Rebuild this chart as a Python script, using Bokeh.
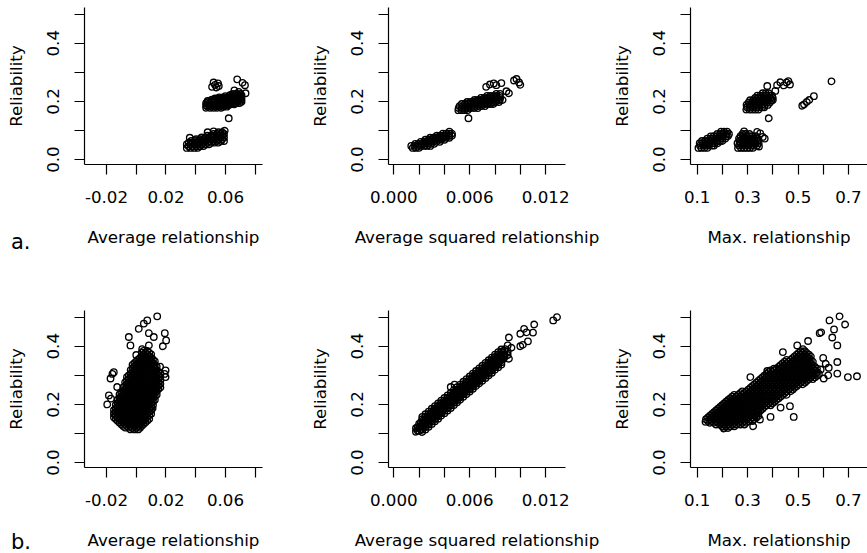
from bokeh.plotting import figure
from bokeh.layouts import column, row
from bokeh.models import Range1d, FixedTicker, Label
from bokeh.embed import file_html
from bokeh.resources import INLINE

FONT = "DejaVu Sans"
FS = "16.7px"

# ---------------- data ----------------
Y_TICKS = [0.0, 0.1, 0.2, 0.3, 0.4, 0.5]
Y_LABELS = ["0.0", "", "0.2", "", "0.4", ""]

X1_TICKS = [-0.02, 0.0, 0.02, 0.04, 0.06, 0.08]
X1_LABELS = ["-0.02", "", "0.02", "", "0.06", ""]
X2_TICKS = [0.0, 0.002, 0.004, 0.006, 0.008, 0.01, 0.012]
X2_LABELS = ["0.000", "", "", "0.006", "", "", "0.012"]
X3_TICKS = [0.1, 0.2, 0.3, 0.4, 0.5, 0.6, 0.7]
X3_LABELS = ["0.1", "", "0.3", "", "0.5", "", "0.7"]

X_TITLES = ["Average relationship", "Average squared relationship", "Max. relationship"]
Y_TITLE = "Reliability"
ROW_TAGS = ["a.", "b."]

# Panel a1: rows of (reliability, [average relationship ...])
a1_rows = [
    (0.178, [0.047, 0.0495, 0.052, 0.0545, 0.057]),
    (0.182, [0.0483, 0.0508, 0.0533, 0.0558, 0.0583, 0.0608]),
    (0.186, [0.047, 0.0495, 0.052, 0.0545, 0.057, 0.0595, 0.062]),
    (0.190, [0.0483, 0.0508, 0.0533, 0.0558, 0.0583, 0.0608, 0.0633, 0.0658]),
    (0.194, [0.047, 0.0495, 0.052, 0.0545, 0.057, 0.0595, 0.062, 0.0645, 0.067, 0.0695]),
    (0.198, [0.0483, 0.0508, 0.0533, 0.0558, 0.0583, 0.0608, 0.0633, 0.0658, 0.0683, 0.0708]),
    (0.202, [0.048, 0.0505, 0.053, 0.0555, 0.058, 0.0605, 0.063, 0.0655, 0.068, 0.0705]),
    (0.206, [0.0508, 0.0533, 0.0558, 0.0583, 0.0608, 0.0633, 0.0658, 0.0683, 0.0708]),
    (0.210, [0.053, 0.0555, 0.058, 0.0605, 0.063, 0.0655, 0.068, 0.0705]),
    (0.214, [0.0558, 0.0583, 0.0608, 0.0633, 0.0658, 0.0683, 0.0708]),
    (0.218, [0.060, 0.0625, 0.065, 0.0675, 0.070]),
    (0.222, [0.0633, 0.0658, 0.0683, 0.0708]),
    (0.226, [0.065, 0.0675, 0.070]),
    (0.040, [0.034, 0.0365, 0.039, 0.0415]),
    (0.046, [0.0353, 0.0378, 0.0403, 0.0428, 0.0453]),
    (0.052, [0.034, 0.0365, 0.039, 0.0415, 0.044, 0.0465, 0.049]),
    (0.058, [0.0353, 0.0378, 0.0403, 0.0428, 0.0453, 0.0478, 0.0503, 0.0528, 0.0553]),
    (0.064, [0.037, 0.0395, 0.042, 0.0445, 0.047, 0.0495, 0.052, 0.0545, 0.057, 0.059]),
    (0.070, [0.0403, 0.0428, 0.0453, 0.0478, 0.0503, 0.0528, 0.0553, 0.0578]),
    (0.076, [0.044, 0.0465, 0.049, 0.0515, 0.054, 0.0565, 0.059]),
    (0.082, [0.0478, 0.0503, 0.0528, 0.0553, 0.0578]),
    (0.088, [0.052, 0.0545, 0.057, 0.059]),
    (0.094, [0.0553, 0.0578]),
]
a1_extra_x = [0.051, 0.053, 0.055, 0.052, 0.0555, 0.054, 0.0679, 0.0715, 0.0731, 0.0735,
              0.066, 0.069, 0.0622, 0.036, 0.048, 0.052, 0.0595]
a1_extra_y = [0.250, 0.257, 0.262, 0.265, 0.253, 0.248, 0.276, 0.264, 0.256, 0.228,
              0.238, 0.233, 0.142, 0.075, 0.094, 0.097, 0.099]

# Panel a2: rows of (reliability, [average squared relationship ...])
a2_rows = [
    (0.040, [0.0015, 0.00175, 0.0020]),
    (0.047, [0.00138, 0.00163, 0.00188, 0.00213, 0.00238, 0.00263, 0.00288]),
    (0.054, [0.0017, 0.00195, 0.0022, 0.00245, 0.0027, 0.00295, 0.0032]),
    (0.061, [0.00213, 0.00238, 0.00263, 0.00288, 0.00313, 0.00338, 0.00363]),
    (0.068, [0.0025, 0.00275, 0.0030, 0.00325, 0.0035, 0.00375, 0.0040]),
    (0.075, [0.00288, 0.00313, 0.00338, 0.00363, 0.00388, 0.00413, 0.00438]),
    (0.082, [0.0034, 0.00365, 0.0039, 0.00415, 0.0044, 0.0046]),
    (0.089, [0.00388, 0.00413, 0.00438, 0.0046]),
    (0.096, [0.0044]),
    (0.170, [0.0051, 0.00535, 0.0056, 0.00585]),
    (0.177, [0.00513, 0.00538, 0.00563, 0.00588, 0.00613, 0.00638, 0.00663]),
    (0.184, [0.0052, 0.00545, 0.0057, 0.00595, 0.0062, 0.00645, 0.0067, 0.00695, 0.0072]),
    (0.191, [0.00538, 0.00563, 0.00588, 0.00613, 0.00638, 0.00663, 0.00688, 0.00713, 0.00738, 0.00763, 0.00788]),
    (0.198, [0.0058, 0.00605, 0.0063, 0.00655, 0.0068, 0.00705, 0.0073, 0.00755, 0.0078, 0.00805, 0.0083]),
    (0.205, [0.00638, 0.00663, 0.00688, 0.00713, 0.00738, 0.00763, 0.00788, 0.00813, 0.00838, 0.0086]),
    (0.212, [0.0069, 0.00715, 0.0074, 0.00765, 0.0079, 0.00815, 0.0084]),
    (0.219, [0.00738, 0.00763, 0.00788, 0.00813, 0.00838]),
    (0.226, [0.0081, 0.0084]),
]
a2_extra_x = [0.0073, 0.0076, 0.0079, 0.0081, 0.0085, 0.0059, 0.0095, 0.0097, 0.0099, 0.0100, 0.0089, 0.0091]
a2_extra_y = [0.250, 0.258, 0.262, 0.256, 0.263, 0.142, 0.272, 0.277, 0.265, 0.257, 0.235, 0.228]

# Panel a3: rows of (reliability, [max relationship ...])
a3_rows = [
    (0.040, [0.105, 0.117, 0.129, 0.141]),
    (0.048, [0.111, 0.123, 0.135, 0.147, 0.159, 0.167]),
    (0.056, [0.110, 0.122, 0.134, 0.146, 0.158, 0.170, 0.182]),
    (0.064, [0.119, 0.131, 0.143, 0.155, 0.167, 0.179, 0.191, 0.200]),
    (0.072, [0.140, 0.152, 0.164, 0.176, 0.188, 0.200, 0.212]),
    (0.080, [0.154, 0.166, 0.178, 0.190, 0.202, 0.214, 0.222]),
    (0.088, [0.180, 0.192, 0.204, 0.216, 0.226]),
    (0.096, [0.195, 0.207, 0.219]),
    (0.040, [0.262, 0.274, 0.286, 0.298, 0.310, 0.322]),
    (0.048, [0.266, 0.278, 0.290, 0.302, 0.314, 0.326, 0.338]),
    (0.056, [0.260, 0.272, 0.284, 0.296, 0.308, 0.320, 0.332, 0.344]),
    (0.064, [0.268, 0.280, 0.292, 0.304, 0.316, 0.328, 0.340]),
    (0.072, [0.266, 0.278, 0.290, 0.302, 0.314, 0.326, 0.338]),
    (0.080, [0.272, 0.284, 0.296, 0.308, 0.320, 0.332]),
    (0.088, [0.280, 0.292, 0.308]),
    (0.172, [0.295, 0.307, 0.319, 0.331, 0.343]),
    (0.180, [0.298, 0.310, 0.322, 0.334, 0.346, 0.358, 0.366]),
    (0.188, [0.296, 0.308, 0.320, 0.332, 0.344, 0.356, 0.368, 0.380]),
    (0.196, [0.304, 0.316, 0.328, 0.340, 0.352, 0.364, 0.376, 0.388]),
    (0.204, [0.310, 0.322, 0.334, 0.346, 0.358, 0.370, 0.382, 0.394, 0.400]),
    (0.212, [0.330, 0.342, 0.354, 0.366, 0.378, 0.390, 0.400]),
    (0.220, [0.339, 0.351, 0.363, 0.375, 0.387, 0.397]),
    (0.228, [0.360, 0.372, 0.384]),
]
a3_extra_x = [0.378, 0.417, 0.430, 0.444, 0.455, 0.462, 0.468, 0.410, 0.384, 0.517, 0.524,
              0.535, 0.545, 0.563, 0.633, 0.286, 0.338, 0.350, 0.360, 0.368, 0.345]
a3_extra_y = [0.253, 0.256, 0.266, 0.255, 0.265, 0.270, 0.258, 0.236, 0.142, 0.185, 0.190,
              0.198, 0.205, 0.218, 0.269, 0.097, 0.095, 0.090, 0.078, 0.072, 0.045]

# Panel b1: rows of (reliability, [average relationship ...])
b1_rows = [
    (0.114, [-0.00375, -0.00125, 0.00125]),
    (0.120, [-0.0075, -0.005, -0.0025, 0.0, 0.0025]),
    (0.126, [-0.00875, -0.00625, -0.00375, -0.00125, 0.00125, 0.00375]),
    (0.132, [-0.010, -0.0075, -0.005, -0.0025, 0.0, 0.0025, 0.005]),
    (0.138, [-0.01125, -0.00875, -0.00625, -0.00375, -0.00125, 0.00125, 0.00375, 0.00625]),
    (0.144, [-0.0125, -0.010, -0.0075, -0.005, -0.0025, 0.0, 0.0025, 0.005, 0.0075]),
    (0.150, [-0.01375, -0.01125, -0.00875, -0.00625, -0.00375, -0.00125, 0.00125, 0.00375, 0.00625, 0.00875]),
    (0.156, [-0.015, -0.0125, -0.010, -0.0075, -0.005, -0.0025, 0.0, 0.0025, 0.005, 0.0075]),
    (0.162, [-0.01375, -0.01125, -0.00875, -0.00625, -0.00375, -0.00125, 0.00125, 0.00375, 0.00625, 0.00875]),
    (0.168, [-0.015, -0.0125, -0.010, -0.0075, -0.005, -0.0025, 0.0, 0.0025, 0.005, 0.0075, 0.010]),
    (0.174, [-0.01375, -0.01125, -0.00875, -0.00625, -0.00375, -0.00125, 0.00125, 0.00375, 0.00625, 0.00875]),
    (0.180, [-0.015, -0.0125, -0.010, -0.0075, -0.005, -0.0025, 0.0, 0.0025, 0.005, 0.0075, 0.010]),
    (0.186, [-0.01375, -0.01125, -0.00875, -0.00625, -0.00375, -0.00125, 0.00125, 0.00375, 0.00625, 0.00875, 0.011]),
    (0.192, [-0.0125, -0.010, -0.0075, -0.005, -0.0025, 0.0, 0.0025, 0.005, 0.0075, 0.010]),
    (0.198, [-0.01375, -0.01125, -0.00875, -0.00625, -0.00375, -0.00125, 0.00125, 0.00375, 0.00625, 0.00875, 0.01125]),
    (0.204, [-0.0125, -0.010, -0.0075, -0.005, -0.0025, 0.0, 0.0025, 0.005, 0.0075, 0.010]),
    (0.210, [-0.01125, -0.00875, -0.00625, -0.00375, -0.00125, 0.00125, 0.00375, 0.00625, 0.00875, 0.01125]),
    (0.216, [-0.0125, -0.010, -0.0075, -0.005, -0.0025, 0.0, 0.0025, 0.005, 0.0075, 0.010, 0.0125]),
    (0.222, [-0.01125, -0.00875, -0.00625, -0.00375, -0.00125, 0.00125, 0.00375, 0.00625, 0.00875, 0.01125]),
    (0.228, [-0.010, -0.0075, -0.005, -0.0025, 0.0, 0.0025, 0.005, 0.0075, 0.010, 0.0125]),
    (0.234, [-0.01125, -0.00875, -0.00625, -0.00375, -0.00125, 0.00125, 0.00375, 0.00625, 0.00875, 0.01125, 0.01375]),
    (0.240, [-0.010, -0.0075, -0.005, -0.0025, 0.0, 0.0025, 0.005, 0.0075, 0.010, 0.0125]),
    (0.246, [-0.00875, -0.00625, -0.00375, -0.00125, 0.00125, 0.00375, 0.00625, 0.00875, 0.01125, 0.01375]),
    (0.252, [-0.0075, -0.005, -0.0025, 0.0, 0.0025, 0.005, 0.0075, 0.010, 0.0125, 0.015]),
    (0.258, [-0.00875, -0.00625, -0.00375, -0.00125, 0.00125, 0.00375, 0.00625, 0.00875, 0.01125, 0.01375, 0.01625]),
    (0.264, [-0.0075, -0.005, -0.0025, 0.0, 0.0025, 0.005, 0.0075, 0.010, 0.0125, 0.015]),
    (0.270, [-0.00625, -0.00375, -0.00125, 0.00125, 0.00375, 0.00625, 0.00875, 0.01125, 0.01375, 0.01625]),
    (0.276, [-0.0075, -0.005, -0.0025, 0.0, 0.0025, 0.005, 0.0075, 0.010, 0.0125, 0.015]),
    (0.282, [-0.00625, -0.00375, -0.00125, 0.00125, 0.00375, 0.00625, 0.00875, 0.01125, 0.01375, 0.01625]),
    (0.288, [-0.005, -0.0025, 0.0, 0.0025, 0.005, 0.0075, 0.010, 0.0125, 0.015]),
    (0.294, [-0.00625, -0.00375, -0.00125, 0.00125, 0.00375, 0.00625, 0.00875, 0.01125, 0.01375, 0.01625]),
    (0.300, [-0.005, -0.0025, 0.0, 0.0025, 0.005, 0.0075, 0.010, 0.0125, 0.015]),
    (0.306, [-0.00375, -0.00125, 0.00125, 0.00375, 0.00625, 0.00875, 0.01125, 0.01375, 0.01625]),
    (0.312, [-0.0025, 0.0, 0.0025, 0.005, 0.0075, 0.010, 0.0125, 0.015]),
    (0.318, [-0.00375, -0.00125, 0.00125, 0.00375, 0.00625, 0.00875, 0.01125, 0.01375]),
    (0.324, [-0.0025, 0.0, 0.0025, 0.005, 0.0075, 0.010, 0.0125]),
    (0.330, [-0.00125, 0.00125, 0.00375, 0.00625, 0.00875, 0.01125, 0.01375]),
    (0.336, [-0.0025, 0.0, 0.0025, 0.005, 0.0075, 0.010, 0.0125]),
    (0.342, [-0.00125, 0.00125, 0.00375, 0.00625, 0.00875, 0.01125]),
    (0.348, [0.0, 0.0025, 0.005, 0.0075, 0.010, 0.0125]),
    (0.354, [0.00125, 0.00375, 0.00625, 0.00875, 0.01125]),
    (0.360, [0.0025, 0.005, 0.0075, 0.010]),
    (0.366, [0.00375, 0.00625, 0.00875]),
    (0.372, [0.005, 0.0075, 0.010]),
    (0.378, [0.00375, 0.00625, 0.00875]),
    (0.384, [0.005, 0.0075]),
]
b1_extra_x = [-0.0195, -0.0184, -0.0173, -0.0151, -0.016, -0.0128, -0.017, -0.005, -0.0039,
              0.0017, 0.0051, 0.0074, 0.0141, 0.0085, 0.0118, 0.0192, 0.0201, 0.0179, 0.0085,
              0.0197, 0.0197, 0.019, 0.016, 0.004, 0.0]
b1_extra_y = [0.200, 0.231, 0.289, 0.311, 0.305, 0.260, 0.220, 0.432, 0.403,
              0.460, 0.478, 0.489, 0.503, 0.445, 0.432, 0.445, 0.420, 0.400, 0.403,
              0.317, 0.294, 0.305, 0.330, 0.390, 0.370]

# Panel b2: columns of (average squared relationship, [reliability ...])
b2_cols = [
    (0.00175, [0.106, 0.118]),
    (0.00188, [0.110, 0.122]),
    (0.0020, [0.109, 0.121, 0.133]),
    (0.00213, [0.114, 0.126, 0.138]),
    (0.00225, [0.105, 0.113, 0.125, 0.137, 0.149, 0.157]),
    (0.00238, [0.123, 0.135, 0.147]),
    (0.0025, [0.114, 0.122, 0.134, 0.146, 0.158, 0.166]),
    (0.00263, [0.132, 0.144, 0.156]),
    (0.00275, [0.123, 0.131, 0.143, 0.155, 0.167, 0.175]),
    (0.00288, [0.142, 0.154, 0.166]),
    (0.0030, [0.133, 0.141, 0.153, 0.165, 0.177, 0.185]),
    (0.00313, [0.151, 0.163, 0.175]),
    (0.00325, [0.142, 0.150, 0.162, 0.174, 0.186, 0.194]),
    (0.00338, [0.160, 0.172, 0.184]),
    (0.0035, [0.151, 0.159, 0.171, 0.183, 0.195, 0.203]),
    (0.00363, [0.170, 0.182, 0.194]),
    (0.00375, [0.161, 0.169, 0.181, 0.193, 0.205, 0.213]),
    (0.00388, [0.179, 0.191, 0.203]),
    (0.0040, [0.170, 0.178, 0.190, 0.202, 0.214, 0.222]),
    (0.00413, [0.188, 0.200, 0.212]),
    (0.00425, [0.179, 0.187, 0.199, 0.211, 0.223, 0.231]),
    (0.00438, [0.198, 0.210, 0.222]),
    (0.0045, [0.188, 0.196, 0.208, 0.220, 0.232, 0.240]),
    (0.00463, [0.207, 0.219, 0.231]),
    (0.00475, [0.198, 0.206, 0.218, 0.230, 0.242, 0.250]),
    (0.00488, [0.216, 0.228, 0.240]),
    (0.0050, [0.207, 0.215, 0.227, 0.239, 0.251, 0.259]),
    (0.00513, [0.226, 0.238, 0.250]),
    (0.00525, [0.216, 0.224, 0.236, 0.248, 0.260, 0.268]),
    (0.00538, [0.235, 0.247, 0.259]),
    (0.0055, [0.226, 0.234, 0.246, 0.258, 0.270, 0.278]),
    (0.00563, [0.244, 0.256, 0.268]),
    (0.00575, [0.235, 0.243, 0.255, 0.267, 0.279, 0.287]),
    (0.00588, [0.254, 0.266, 0.278]),
    (0.0060, [0.244, 0.252, 0.264, 0.276, 0.288, 0.296]),
    (0.00613, [0.263, 0.275, 0.287]),
    (0.00625, [0.254, 0.262, 0.274, 0.286, 0.298, 0.306]),
    (0.00638, [0.272, 0.284, 0.296]),
    (0.0065, [0.263, 0.271, 0.283, 0.295, 0.307, 0.315]),
    (0.00663, [0.282, 0.294, 0.306]),
    (0.00675, [0.272, 0.280, 0.292, 0.304, 0.316, 0.324]),
    (0.00688, [0.291, 0.303, 0.315]),
    (0.0070, [0.281, 0.289, 0.301, 0.313, 0.325, 0.333]),
    (0.00713, [0.300, 0.312, 0.324]),
    (0.00725, [0.291, 0.299, 0.311, 0.323, 0.335, 0.343]),
    (0.00738, [0.309, 0.321, 0.333]),
    (0.0075, [0.300, 0.308, 0.320, 0.332, 0.344, 0.352]),
    (0.00763, [0.319, 0.331, 0.343]),
    (0.00775, [0.309, 0.317, 0.329, 0.341, 0.353, 0.361]),
    (0.00788, [0.328, 0.340, 0.352]),
    (0.0080, [0.319, 0.327, 0.339, 0.351, 0.363, 0.371]),
    (0.00813, [0.337, 0.349, 0.361]),
    (0.00825, [0.328, 0.336, 0.348, 0.360, 0.372, 0.380]),
    (0.00838, [0.347, 0.359, 0.371]),
    (0.0085, [0.337, 0.345, 0.357, 0.369, 0.381, 0.389]),
    (0.00863, [0.356, 0.368, 0.380]),
    (0.00875, [0.361, 0.373, 0.385]),
    (0.0090, [0.370, 0.382]),
]
b2_extra_x = [0.0091, 0.0100, 0.0103, 0.0105, 0.0100, 0.0102, 0.0106, 0.0111, 0.0110, 0.0126,
              0.0129, 0.0090, 0.0091, 0.0045, 0.0048, 0.0088, 0.0093]
b2_extra_y = [0.430, 0.443, 0.460, 0.448, 0.400, 0.405, 0.417, 0.475, 0.447, 0.489,
              0.500, 0.403, 0.357, 0.260, 0.268, 0.390, 0.395]

# Panel b3: rows of (reliability, [max relationship ...])
b3_rows = [
    (0.119, [0.207, 0.223]),
    (0.125, [0.199, 0.215, 0.231, 0.247]),
    (0.131, [0.175, 0.191, 0.207, 0.223, 0.239, 0.255, 0.271, 0.287]),
    (0.137, [0.151, 0.167, 0.183, 0.199, 0.215, 0.231, 0.247, 0.263, 0.279, 0.295]),
    (0.143, [0.143, 0.159, 0.175, 0.191, 0.207, 0.223, 0.239, 0.255, 0.271, 0.287, 0.303, 0.319]),
    (0.149, [0.135, 0.151, 0.167, 0.183, 0.199, 0.215, 0.231, 0.247, 0.263, 0.279, 0.295, 0.311, 0.327]),
    (0.155, [0.143, 0.159, 0.175, 0.191, 0.207, 0.223, 0.239, 0.255, 0.271, 0.287, 0.303, 0.319, 0.335]),
    (0.161, [0.151, 0.167, 0.183, 0.199, 0.215, 0.231, 0.247, 0.263, 0.279, 0.295, 0.311, 0.327, 0.343]),
    (0.167, [0.159, 0.175, 0.191, 0.207, 0.223, 0.239, 0.255, 0.271, 0.287, 0.303, 0.319, 0.335]),
    (0.173, [0.167, 0.183, 0.199, 0.215, 0.231, 0.247, 0.263, 0.279, 0.295, 0.311, 0.327, 0.343]),
    (0.179, [0.175, 0.191, 0.207, 0.223, 0.239, 0.255, 0.271, 0.287, 0.303, 0.319, 0.335, 0.351]),
    (0.185, [0.183, 0.199, 0.215, 0.231, 0.247, 0.263, 0.279, 0.295, 0.311, 0.327, 0.343, 0.359]),
    (0.191, [0.191, 0.207, 0.223, 0.239, 0.255, 0.271, 0.287, 0.303, 0.319, 0.335, 0.351, 0.367]),
    (0.197, [0.199, 0.215, 0.231, 0.247, 0.263, 0.279, 0.295, 0.311, 0.327, 0.343, 0.359, 0.375, 0.391]),
    (0.203, [0.207, 0.223, 0.239, 0.255, 0.271, 0.287, 0.303, 0.319, 0.335, 0.351, 0.367, 0.383, 0.399]),
    (0.209, [0.215, 0.231, 0.247, 0.263, 0.279, 0.295, 0.311, 0.327, 0.343, 0.359, 0.375, 0.391, 0.407]),
    (0.215, [0.223, 0.239, 0.255, 0.271, 0.287, 0.303, 0.319, 0.335, 0.351, 0.367, 0.383, 0.399, 0.415]),
    (0.221, [0.231, 0.247, 0.263, 0.279, 0.295, 0.311, 0.327, 0.343, 0.359, 0.375, 0.391, 0.407, 0.423]),
    (0.227, [0.239, 0.255, 0.271, 0.287, 0.303, 0.319, 0.335, 0.351, 0.367, 0.383, 0.399, 0.415, 0.431]),
    (0.233, [0.247, 0.263, 0.279, 0.295, 0.311, 0.327, 0.343, 0.359, 0.375, 0.391, 0.407, 0.423, 0.439, 0.455]),
    (0.239, [0.271, 0.287, 0.303, 0.319, 0.335, 0.351, 0.367, 0.383, 0.399, 0.415, 0.431, 0.447]),
    (0.245, [0.279, 0.295, 0.311, 0.327, 0.343, 0.359, 0.375, 0.391, 0.407, 0.423, 0.439, 0.455, 0.471]),
    (0.251, [0.303, 0.319, 0.335, 0.351, 0.367, 0.383, 0.399, 0.415, 0.431, 0.447, 0.463, 0.479]),
    (0.257, [0.311, 0.327, 0.343, 0.359, 0.375, 0.391, 0.407, 0.423, 0.439, 0.455, 0.471, 0.487]),
    (0.263, [0.319, 0.335, 0.351, 0.367, 0.383, 0.399, 0.415, 0.431, 0.447, 0.463, 0.479, 0.495]),
    (0.269, [0.327, 0.343, 0.359, 0.375, 0.391, 0.407, 0.423, 0.439, 0.455, 0.471, 0.487, 0.503, 0.519]),
    (0.275, [0.335, 0.351, 0.367, 0.383, 0.399, 0.415, 0.431, 0.447, 0.463, 0.479, 0.495, 0.511, 0.527]),
    (0.281, [0.343, 0.359, 0.375, 0.391, 0.407, 0.423, 0.439, 0.455, 0.471, 0.487, 0.503, 0.519, 0.535]),
    (0.287, [0.351, 0.367, 0.383, 0.399, 0.415, 0.431, 0.447, 0.463, 0.479, 0.495, 0.511, 0.527, 0.543, 0.559]),
    (0.293, [0.359, 0.375, 0.391, 0.407, 0.423, 0.439, 0.455, 0.471, 0.487, 0.503, 0.519, 0.535, 0.551, 0.567]),
    (0.299, [0.367, 0.383, 0.399, 0.415, 0.431, 0.447, 0.463, 0.479, 0.495, 0.511, 0.527, 0.543, 0.559, 0.575]),
    (0.305, [0.375, 0.391, 0.407, 0.423, 0.439, 0.455, 0.471, 0.487, 0.503, 0.519, 0.535, 0.551, 0.567, 0.583]),
    (0.311, [0.383, 0.399, 0.415, 0.431, 0.447, 0.463, 0.479, 0.495, 0.511, 0.527, 0.543, 0.559, 0.575]),
    (0.317, [0.391, 0.407, 0.423, 0.439, 0.455, 0.471, 0.487, 0.503, 0.519, 0.535, 0.551, 0.567]),
    (0.323, [0.415, 0.431, 0.447, 0.463, 0.479, 0.495, 0.511, 0.527, 0.543, 0.559, 0.575]),
    (0.329, [0.423, 0.439, 0.455, 0.471, 0.487, 0.503, 0.519, 0.535, 0.551, 0.567]),
    (0.335, [0.431, 0.447, 0.463, 0.479, 0.495, 0.511, 0.527, 0.543, 0.559]),
    (0.341, [0.439, 0.455, 0.471, 0.487, 0.503, 0.519, 0.535, 0.551]),
    (0.347, [0.447, 0.463, 0.479, 0.495, 0.511, 0.527, 0.543, 0.559]),
    (0.353, [0.455, 0.471, 0.487, 0.503, 0.519, 0.535, 0.551]),
    (0.359, [0.479, 0.495, 0.511, 0.527, 0.543]),
    (0.365, [0.487, 0.503, 0.519, 0.535, 0.551]),
    (0.371, [0.495, 0.511, 0.527, 0.543]),
    (0.377, [0.503, 0.519, 0.535]),
    (0.383, [0.511, 0.527]),
]
b3_extra_x = [0.625, 0.665, 0.687, 0.643, 0.636, 0.656, 0.586, 0.592, 0.540, 0.656, 0.656,
              0.698, 0.734, 0.622, 0.602, 0.483, 0.468, 0.431, 0.391, 0.349, 0.322, 0.311,
              0.133, 0.206, 0.497, 0.378, 0.405, 0.600, 0.610, 0.590, 0.620, 0.520, 0.440]
b3_extra_y = [0.489, 0.503, 0.475, 0.458, 0.430, 0.403, 0.445, 0.448, 0.418, 0.346, 0.306,
              0.294, 0.297, 0.326, 0.289, 0.157, 0.194, 0.189, 0.157, 0.148, 0.125, 0.294,
              0.140, 0.117, 0.403, 0.315, 0.323, 0.360, 0.340, 0.320, 0.300, 0.390, 0.380]


def from_rows(rows, ex, ey):
    xs, ys = [], []
    for yv, xl in rows:
        for xv in xl:
            xs.append(xv)
            ys.append(yv)
    return xs + list(ex), ys + list(ey)


def from_cols(cols, ex, ey):
    xs, ys = [], []
    for xv, yl in cols:
        for yv in yl:
            xs.append(xv)
            ys.append(yv)
    return xs + list(ex), ys + list(ey)


# ---------------- layout ----------------
Y_RANGE = (-0.017, 0.523)
X_RANGES = [(-0.0348, 0.0849), (-0.00042, 0.01357), (0.0734, 0.7758)]
COL_W = [289, 316, 262]
COL_BORDERS = [(84, 27), (99, 40), (85, 0)]
ROW_H = [280, 273]
ROW_BORDERS = [(7, 116), (30, 86)]
FRAME_H = 157
TAG_BASELINE = [241, 261]   # canvas-local baseline of the row tags


def make_panel(ci, ri, xs, ys, xticks, xlabels):
    bl, br = COL_BORDERS[ci]
    bt, bb = ROW_BORDERS[ri]
    p = figure(width=COL_W[ci], height=ROW_H[ri],
               x_range=Range1d(*X_RANGES[ci]), y_range=Range1d(*Y_RANGE),
               output_backend="svg", toolbar_location=None,
               min_border_left=bl, min_border_right=br,
               min_border_top=bt, min_border_bottom=bb)
    p.outline_line_color = None
    p.xgrid.visible = False
    p.ygrid.visible = False
    p.scatter(xs, ys, marker="circle", size=6.5, fill_color=None,
              line_color="black", line_width=1.35)
    for ax, ticks, labels in ((p.xaxis[0], xticks, xlabels), (p.yaxis[0], Y_TICKS, Y_LABELS)):
        ax.ticker = FixedTicker(ticks=ticks)
        ax.major_label_overrides = dict(zip(ticks, labels))
        ax.minor_tick_line_color = None
        ax.major_tick_out = 10
        ax.major_tick_in = 0
        ax.axis_line_color = "black"
        ax.axis_line_width = 1.2
        ax.major_tick_line_color = "black"
        ax.major_tick_line_width = 1.2
        ax.major_label_text_font = FONT
        ax.major_label_text_font_size = FS
        ax.major_label_text_color = "black"
        ax.axis_label_text_font = FONT
        ax.axis_label_text_font_size = FS
        ax.axis_label_text_font_style = "normal"
        ax.axis_label_text_color = "black"
    p.xaxis.axis_label = X_TITLES[ci]
    p.yaxis.axis_label = Y_TITLE
    p.yaxis.major_label_orientation = "vertical"
    p.xaxis.major_label_standoff = 16
    p.yaxis.major_label_standoff = 15
    p.xaxis.axis_label_standoff = 21
    p.yaxis.axis_label_standoff = 19
    if ci == 0:
        frame_right = bl + (COL_W[ci] - bl - br)
        frame_bottom = bt + FRAME_H
        p.add_layout(Label(x=10.5 - frame_right, y=frame_bottom - TAG_BASELINE[ri],
                           x_units="screen", y_units="screen",
                           text=ROW_TAGS[ri], text_font=FONT, text_font_size="21px",
                           text_baseline="alphabetic", text_align="left",
                           text_color="black"), "right")
    return p


ticks = [(X1_TICKS, X1_LABELS), (X2_TICKS, X2_LABELS), (X3_TICKS, X3_LABELS)]
data = [
    [from_rows(a1_rows, a1_extra_x, a1_extra_y), from_rows(a2_rows, a2_extra_x, a2_extra_y),
     from_rows(a3_rows, a3_extra_x, a3_extra_y)],
    [from_rows(b1_rows, b1_extra_x, b1_extra_y), from_cols(b2_cols, b2_extra_x, b2_extra_y),
     from_rows(b3_rows, b3_extra_x, b3_extra_y)],
]

rows_ = []
for ri in range(2):
    panels = []
    for ci in range(3):
        xs, ys = data[ri][ci]
        panels.append(make_panel(ci, ri, xs, ys, *ticks[ci]))
    rows_.append(row(*panels, spacing=0))
layout = column(*rows_, spacing=0)

open("out.html", "w").write(file_html(layout, INLINE))
